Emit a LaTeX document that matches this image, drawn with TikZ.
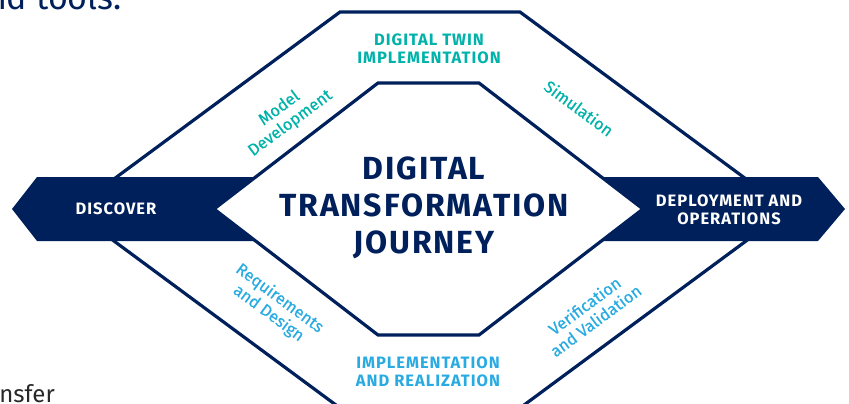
\documentclass[tikz,border=0pt]{standalone}
\usepackage{fontspec}
\setmainfont{Fira Sans}
\newfontfamily\capsfont[LetterSpace=6.0]{Fira Sans}
\newfontfamily\labelfont[FakeBold=0.4]{Fira Sans}
\definecolor{navy}{RGB}{0,32,91}
\definecolor{teal}{RGB}{0,178,169}
\definecolor{sky}{RGB}{41,171,226}
\definecolor{ink}{RGB}{40,40,40}

\begin{document}
\begin{tikzpicture}
  [x=1pt,y=-1pt,
   hexline/.style={draw=navy,line width=3.2pt,line join=miter},
   phase/.style={font=\capsfont\bfseries\fontsize{16.5}{18.5}\selectfont,align=center,inner sep=0pt},
   activity/.style={font=\labelfont\fontsize{16.5}{18.5}\selectfont,align=center,inner sep=0pt},
   title/.style={font=\capsfont\bfseries\fontsize{32}{37}\selectfont,align=center,inner sep=0pt,text=navy}]
  \useasboundingbox (0,0) rectangle (849,404);
  \clip (0,0) rectangle (849,404);

  % outer ring
  \coordinate (o1) at (340,12);
  \coordinate (o2) at (520,12);
  \coordinate (o3) at (788,210);
  \coordinate (o4) at (520,408);
  \coordinate (o5) at (340,408);
  \coordinate (o6) at (72,210);
  \draw[hexline] (o1) -- (o2) -- (o3) -- (o4) -- (o5) -- (o6) -- cycle;

  % banners
  \fill[navy] (12,209) -- (37,177) -- (280,177) -- (280,241) -- (37,241) -- cycle;
  \fill[navy] (580,177) -- (818,177) -- (845,209) -- (818,241) -- (580,241) -- cycle;

  % inner hexagon
  \coordinate (i1) at (378,83);
  \coordinate (i2) at (479,83);
  \coordinate (i3) at (643,209);
  \coordinate (i4) at (479,335);
  \coordinate (i5) at (378,335);
  \coordinate (i6) at (214,209);
  \draw[hexline,fill=white] (i1) -- (i2) -- (i3) -- (i4) -- (i5) -- (i6) -- cycle;

  \node[title] (journey) at (424,208) {DIGITAL\\TRANSFORMATION\\JOURNEY};

  \node[phase,text=white] (discover) at (116,209) {DISCOVER};
  \node[phase,text=white] (deploy) at (729,210) {DEPLOYMENT AND\\OPERATIONS};
  \node[phase,text=teal] (twin) at (429,49) {DIGITAL TWIN\\IMPLEMENTATION};
  \node[phase,text=sky] (realize) at (428,372) {IMPLEMENTATION\\AND REALIZATION};

  \node[activity,text=teal,rotate=36.5] (model) at (285,116) {Model\\Development};
  \node[activity,text=teal,rotate=-36.5] (sim) at (579,108) {Simulation};
  \node[activity,text=sky,rotate=-36.5] (req) at (274,306) {Requirements\\and Design};
  \node[activity,text=sky,rotate=36.5] (vv) at (590,313) {Verification\\and Validation};

  % cut-off page text
  \node[font=\fontsize{34}{40}\selectfont,text=navy,anchor=base east,inner sep=0pt] (top) at (122,10) {nd tools.};
  \node[font=\fontsize{24}{28}\selectfont,text=ink,anchor=base east,inner sep=0pt] (bottom) at (55,402) {nsfer};
\end{tikzpicture}
\end{document}
